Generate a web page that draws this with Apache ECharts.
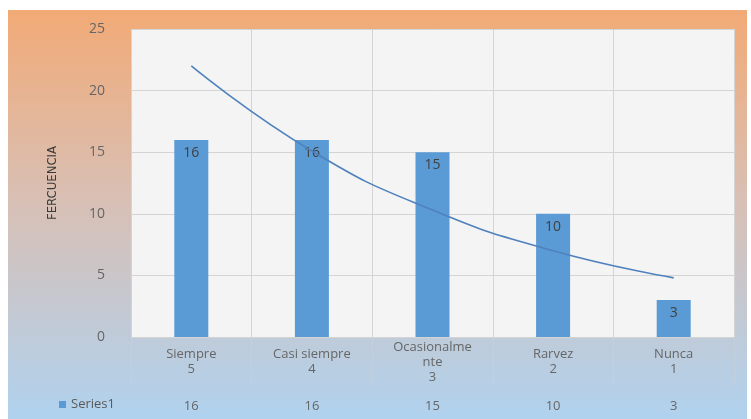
<!DOCTYPE html>
<html>
<head>
<meta charset="utf-8">
<script src="https://cdn.jsdelivr.net/npm/echarts@6/dist/echarts.min.js"></script>
<style>
html,body{margin:0;padding:0;background:#ffffff;}
#chart{width:751px;height:419px;}
</style>
</head>
<body>
<div id="chart"></div>
<script>
const categories = ['Siempre\n5', 'Casi siempre\n4', 'Ocasionalme\nnte\n3', 'Rarvez\n2', 'Nunca\n1'];
const values = [16, 16, 15, 10, 3];
const trendValues = [22.0, 15.1, 10.3, 7.0, 4.8];
const yTicks = [0, 5, 10, 15, 20, 25];
const seriesName = 'Series1';
const yTitle = 'FERCUENCIA';

const chart = echarts.init(document.getElementById('chart'));
const font = '"Open Sans", Lato, sans-serif';
chart.setOption({
  animation: false,
  textStyle: { fontFamily: font },
  graphic: [{
    type: 'rect', z: -10, silent: true,
    shape: { x: 8, y: 10, width: 739, height: 409 },
    style: {
      fill: new echarts.graphic.LinearGradient(0, 0, 0, 1, [
        { offset: 0, color: '#F2AA76' },
        { offset: 0.45, color: '#D9BFB3' },
        { offset: 1, color: '#B0D2EF' }
      ])
    }
  }],
  grid: { left: 131, right: 17, top: 29, bottom: 82, show: true, backgroundColor: '#F4F4F4', borderWidth: 0 },
  legend: {
    data: [{ name: seriesName, icon: 'rect' }],
    left: 54, top: 393, itemWidth: 7, itemHeight: 7, itemGap: 4,
    textStyle: { color: '#595959', fontSize: 13, fontFamily: font }
  },
  xAxis: [{
    type: 'category', data: categories, boundaryGap: true,
    axisLine: { show: false },
    axisTick: { show: true, length: 48, lineStyle: { color: 'rgba(200,210,220,0.6)' } },
    splitLine: { show: true, lineStyle: { color: '#D4D4D4' } },
    axisLabel: { color: '#666666', fontSize: 13, margin: 25, verticalAlign: 'middle', lineHeight: 15, interval: 0 }
  }, {
    type: 'category', data: values.map(String), position: 'bottom', offset: 55,
    axisLine: { show: false }, axisTick: { show: false }, splitLine: { show: false },
    axisLabel: { color: '#666666', fontSize: 13, margin: 8, interval: 0 }
  }],
  yAxis: {
    type: 'value', min: 0, max: 25, interval: 5,
    name: yTitle, nameLocation: 'middle', nameGap: 72, nameRotate: 90,
    nameTextStyle: { color: '#3A3A3A', fontSize: 13, fontFamily: '"Liberation Sans Narrow", "DejaVu Sans Condensed", sans-serif' },
    axisLine: { show: false }, axisTick: { show: false },
    splitLine: { lineStyle: { color: '#D4D4D4' } },
    axisLabel: { color: '#666666', fontSize: 14, margin: 26, formatter: v => yTicks.includes(v) ? String(v) : '' }
  },
  series: [{
    name: seriesName, type: 'bar', data: values, barWidth: 34,
    itemStyle: { color: '#5B9BD5' },
    label: { show: true, position: 'insideTop', distance: 6, color: '#404040', fontSize: 14 }
  }, {
    name: 'trend', type: 'line', data: trendValues, smooth: true, symbol: 'none',
    lineStyle: { color: '#4F81BD', width: 1.6 }, z: 5
  }]
});
</script>
</body>
</html>
